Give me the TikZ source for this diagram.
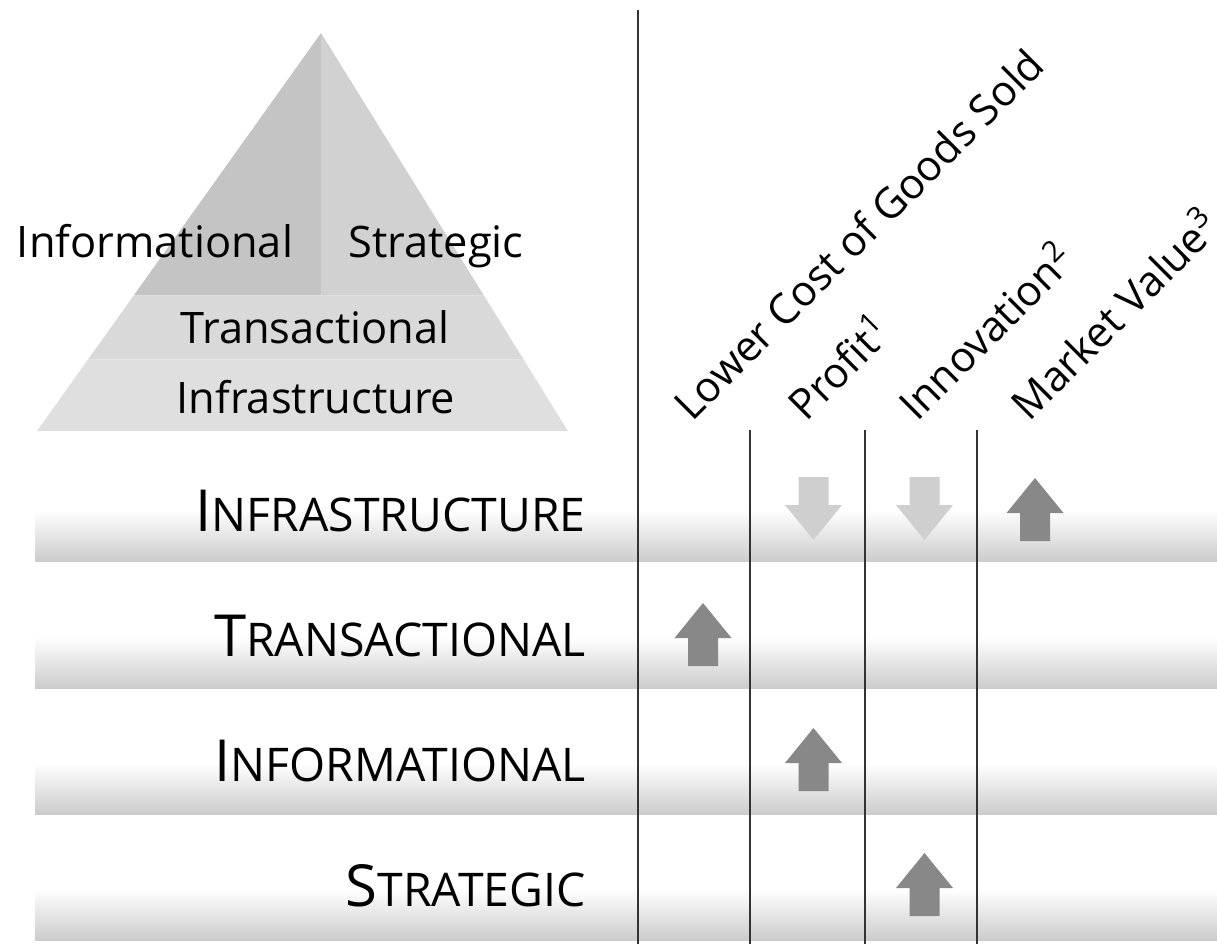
\documentclass[tikz,border=0pt]{standalone}
\usepackage{fontspec}
\setmainfont{Open Sans}
\usepackage{tikz}
\usetikzlibrary{calc}
\definecolor{pyrinfo}{HTML}{C4C4C4}
\definecolor{pyrstrat}{HTML}{D1D1D1}
\definecolor{pyrtrans}{HTML}{D9D9D9}
\definecolor{pyrinfra}{HTML}{DFDFDF}
\definecolor{arrowup}{HTML}{888888}
\definecolor{arrowdown}{HTML}{CFCFCF}
\definecolor{rulegray}{HTML}{333333}
\tikzstyle{band} = [top color=white, bottom color=gray!40]
\tikzstyle{grid} = [line width=1pt, draw=rulegray]
\tikzstyle{pyrlabel} = [inner sep=0pt, anchor=base, font=\fontsize{21.7}{24}\selectfont]
\tikzstyle{rowlabel} = [inner sep=0pt, anchor=base east]
\tikzstyle{colhead} = [inner sep=0pt, anchor=base west, rotate=45, font=\fontsize{21}{24}\selectfont]
\tikzset{
    arrowupshape/.pic={\fill[arrowup] (0,0) -- (28.5,-35) -- (15,-35) -- (15,-63) -- (-15,-63) -- (-15,-35) -- (-28.5,-35) -- cycle;},
    arrowdownshape/.pic={\fill[arrowdown] (0,0) -- (28.5,35) -- (15,35) -- (15,63) -- (-15,63) -- (-15,35) -- (-28.5,35) -- cycle;}
}
\newcommand{\rowname}[2]{{\fontsize{29}{30}\selectfont #1}{\fontsize{23.2}{24}\selectfont #2}}

\begin{document}
\begin{tikzpicture}[x=0.5pt,y=0.5pt]
    \useasboundingbox (0,0) rectangle (1217,-944);

    \coordinate (apex) at (321,-33);
    \coordinate (base_left) at (37,-431);
    \coordinate (base_right) at (568,-431);
    \coordinate (split_left) at ($(apex)!0.659!(base_left)$);
    \coordinate (split_right) at ($(apex)!0.659!(base_right)$);
    \coordinate (split_mid) at (apex |- split_left);
    \coordinate (band_left) at ($(apex)!0.82!(base_left)$);
    \coordinate (band_right) at ($(apex)!0.82!(base_right)$);
    \fill[pyrinfo] (apex) -- (split_left) -- (split_mid) -- cycle;
    \fill[pyrstrat] (apex) -- (split_mid) -- (split_right) -- cycle;
    \fill[pyrtrans] (split_left) -- (split_right) -- (band_right) -- (band_left) -- cycle;
    \fill[pyrinfra] (band_left) -- (band_right) -- (base_right) -- (base_left) -- cycle;

    \node (pyr_info) [pyrlabel] at (155,-257) {Informational};
    \node (pyr_strat) [pyrlabel] at (436,-257) {Strategic};
    \node (pyr_trans) [pyrlabel] at (315,-343) {Transactional};
    \node (pyr_infra) [pyrlabel] at (316,-413) {Infrastructure};

    \foreach \y in {561,688,814,940}
        \shade[band] (35,{51-\y}) rectangle (1217,-\y);

    \node (row_infra) [rowlabel] at (586,-531) {\rowname{I}{NFRASTRUCTURE}};
    \node (row_trans) [rowlabel] at (586,-656) {\rowname{T}{RANSACTIONAL}};
    \node (row_info) [rowlabel] at (586,-781) {\rowname{I}{NFORMATIONAL}};
    \node (row_strat) [rowlabel] at (586,-906) {\rowname{S}{TRATEGIC}};

    \draw[grid] (638,-10) -- (638,-944);
    \foreach \x in {750,865,977}
        \draw[grid] (\x,-430) -- (\x,-944);

    \node (head_cost) [colhead] at (692,-423) {Lower Cost of Goods Sold};
    \node (head_profit) [colhead] at (806,-423) {Profit\textsuperscript{1}};
    \node (head_innov) [colhead] at (917,-423) {Innovation\textsuperscript{2}};
    \node (head_market) [colhead] at (1029,-423) {Market Value\textsuperscript{3}};

    \pic at (813.5,-540) {arrowdownshape};
    \pic at (924.5,-540) {arrowdownshape};
    \pic at (1035,-478) {arrowupshape};
    \pic at (703,-603) {arrowupshape};
    \pic at (813.5,-728) {arrowupshape};
    \pic at (924.5,-853) {arrowupshape};
\end{tikzpicture}
\end{document}
